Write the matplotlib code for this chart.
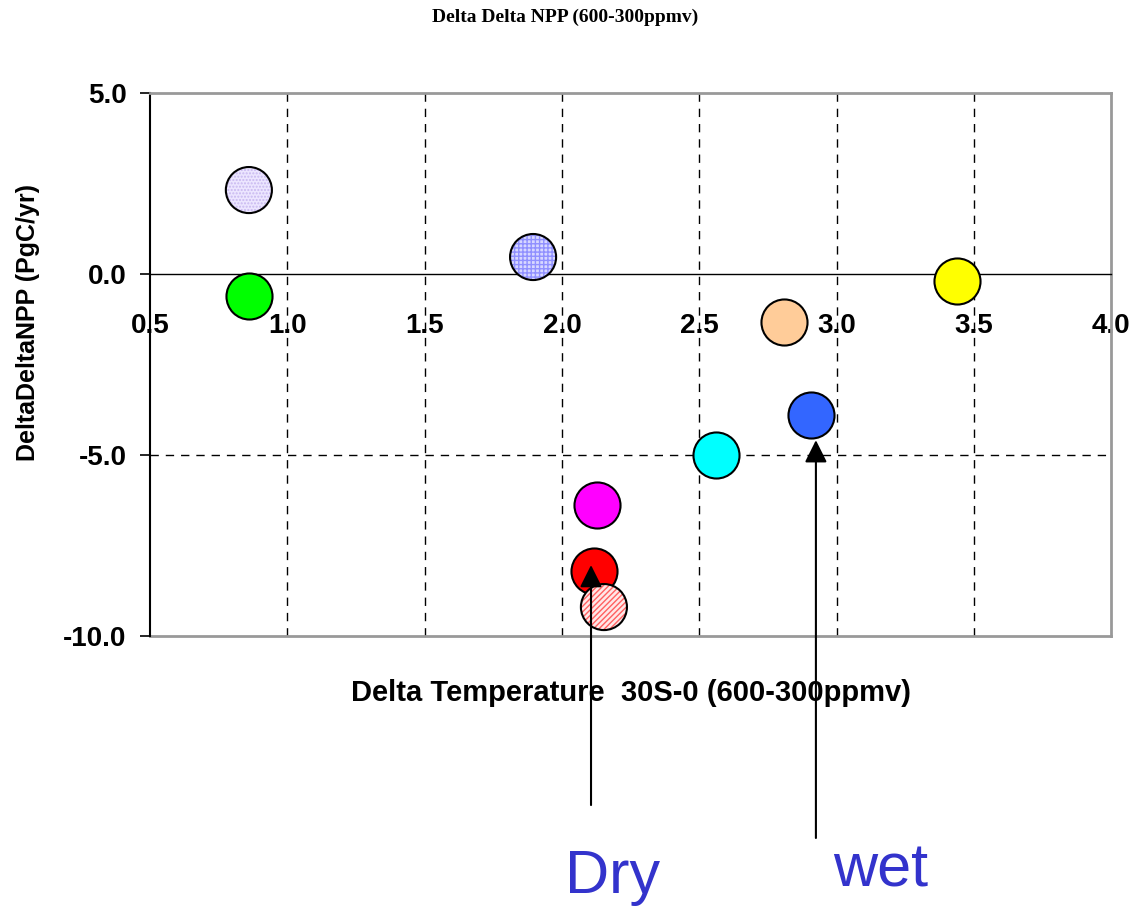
import matplotlib
matplotlib.use("Agg")
import matplotlib.pyplot as plt

# data
temp = [0.86, 0.86, 1.895, 3.44, 2.81, 2.907, 2.56, 2.128, 2.117, 2.153]
dnpp = [2.32, -0.61, 0.47, -0.19, -1.33, -3.90, -5.00, -6.38, -8.20, -9.20]
fills = ['#ece6ff', '#00ff00', '#d8d8ff', '#ffff00', '#ffcc99',
         '#3366ff', '#00ffff', '#ff00ff', '#ff0000', '#ffe8e8']
hatches = ['.....', None, '++++', None, None, None, None, None, None, '//////']
hatch_cols = ['#c8b8f0', None, '#9090ff', None, None, None, None, None, None, '#ff6060']

xticks = [0.5, 1.0, 1.5, 2.0, 2.5, 3.0, 3.5, 4.0]
yticks = [-10.0, -5.0, 0.0, 5.0]

notes = ['Dry', 'wet']
note_x = [2.106, 2.925]
note_tip = [-8.04, -4.59]
note_tail = [-14.67, -15.58]
note_text_x = [2.186, 3.162]
note_text_y = [-17.10, -16.93]

plt.rcParams['font.family'] = ['Liberation Sans', 'DejaVu Sans']

fig = plt.figure(figsize=(11.34, 9.06), dpi=100)
ax = fig.add_axes([0.1323, 0.298, 0.8475, 0.5993])

ax.set_xlim(0.5, 4.0)
ax.set_ylim(-10, 5)

#grid
for x in xticks[1:-1]:
    ax.axvline(x, color='black', lw=1, ls=(0, (6, 5)), zorder=1)
ax.axhline(-5, color='black', lw=1, ls=(0, (6, 5)), zorder=1)

#markers, hatched ones drawn in two layers so the hatch can have its own colour
for x, y, fc, h, hc in zip(temp, dnpp, fills, hatches, hatch_cols):
    if h is None:
        ax.scatter(x, y, s=1100, c=fc, edgecolors='black', linewidths=1.5, zorder=3)
    else:
        ax.scatter(x, y, s=1100, c=fc, hatch=h, edgecolors=hc, linewidths=0, zorder=3)
        ax.scatter(x, y, s=1100, facecolors='none', edgecolors='black', linewidths=1.5, zorder=3)

#box and axes lines
ax.spines['bottom'].set_position(('data', 0))
ax.spines['bottom'].set_linewidth(1)
ax.spines['left'].set_linewidth(1.5)
for side in ['top', 'right']:
    ax.spines[side].set_color('#999999')
    ax.spines[side].set_linewidth(2)
ax.axhline(-10, color='#999999', lw=2, zorder=2, clip_on=False)

ax.set_xticks(xticks)
ax.set_xticklabels(['%.1f' % v for v in xticks], fontsize=20, fontweight='bold')
ax.tick_params(axis='x', length=0, pad=28)
ax.set_yticks(yticks)
ax.set_yticklabels(['%.1f' % v for v in yticks], fontsize=20, fontweight='bold')
ax.tick_params(axis='y', direction='out', length=7, width=1.2, pad=10)

ax.set_xlabel('Delta Temperature  30S-0 (600-300ppmv)', fontsize=21, fontweight='bold')
ax.xaxis.set_label_coords(0.5, -0.08)
ax.set_ylabel('DeltaDeltaNPP (PgC/yr)', fontsize=18, fontweight='bold')
ax.yaxis.set_label_coords(-0.115, 0.578)

fig.text(0.498, 0.981, 'Delta Delta NPP (600-300ppmv)', fontsize=14, fontweight='bold',
         family='Liberation Serif', ha='center', va='center')

#arrows + notes
for n, x, tip, tail, tx, ty in zip(notes, note_x, note_tip, note_tail, note_text_x, note_text_y):
    ax.annotate('', xy=(x, tip), xytext=(x, tail), annotation_clip=False,
                arrowprops=dict(arrowstyle='-|>', color='black', lw=1.5, mutation_scale=34,
                                shrinkA=0, shrinkB=0), zorder=5)
    ax.text(tx, ty, n, fontsize=44, color='#3333cc', ha='center', va='baseline', clip_on=False)

fig.savefig('out.png', dpi=100)
